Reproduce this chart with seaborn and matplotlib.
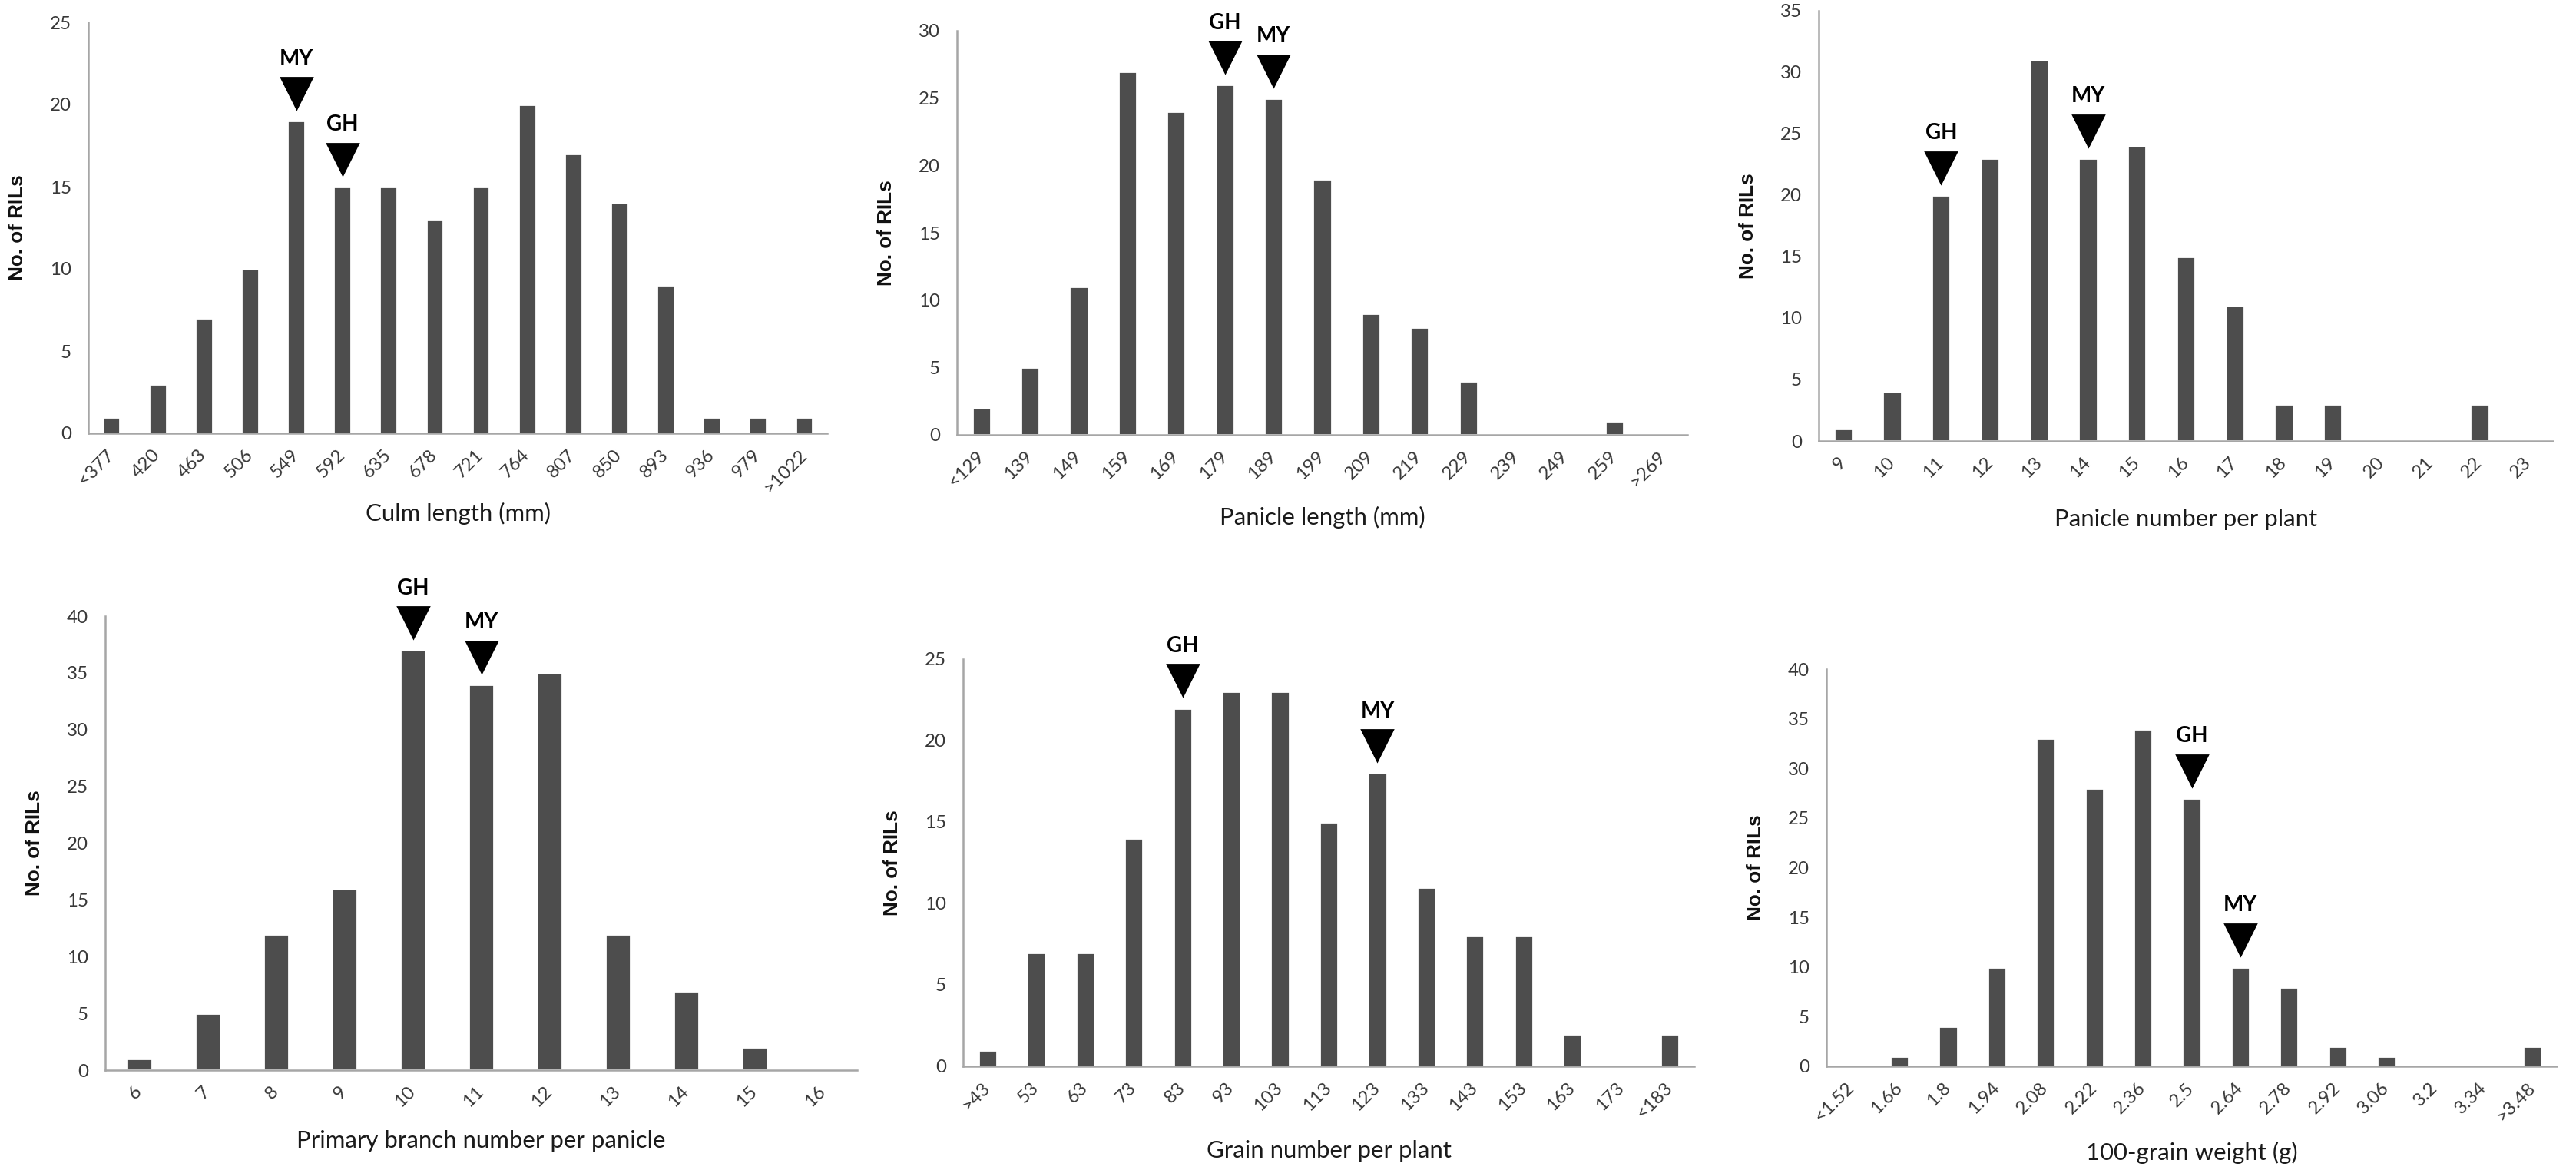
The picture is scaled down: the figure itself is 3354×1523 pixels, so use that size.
import matplotlib
matplotlib.use("Agg")
import matplotlib.pyplot as plt
import matplotlib.transforms as mtransforms
import seaborn as sns
import pandas as pd

# Данные: шесть гистограмм по признакам
culm_labels = ["<377", "420", "463", "506", "549", "592", "635", "678", "721",
               "764", "807", "850", "893", "936", "979", ">1022"]
culm_counts = [1, 3, 7, 10, 19, 15, 15, 13, 15, 20, 17, 14, 9, 1, 1, 1]

panicle_len_labels = ["<129", "139", "149", "159", "169", "179", "189", "199",
                      "209", "219", "229", "239", "249", "259", ">269"]
panicle_len_counts = [2, 5, 11, 27, 24, 26, 25, 19, 9, 8, 4, 0, 0, 1, 0]

panicle_num_labels = [str(v) for v in range(9, 24)]
panicle_num_counts = [1, 4, 20, 23, 31, 23, 24, 15, 11, 3, 3, 0, 0, 3, 0]

branch_labels = [str(v) for v in range(6, 17)]
branch_counts = [1, 5, 12, 16, 37, 34, 35, 12, 7, 2, 0]

grain_num_labels = [">43", "53", "63", "73", "83", "93", "103", "113", "123",
                    "133", "143", "153", "163", "173", "<183"]
grain_num_counts = [1, 7, 7, 14, 22, 23, 23, 15, 18, 11, 8, 8, 2, 0, 2]

weight_labels = ["<1.52", "1.66", "1.8", "1.94", "2.08", "2.22", "2.36", "2.5",
                 "2.64", "2.78", "2.92", "3.06", "3.2", "3.34", ">3.48"]
weight_counts = [0, 1, 4, 10, 33, 28, 34, 27, 10, 8, 2, 1, 0, 0, 2]

panels = [
    # labels, counts, xlabel, ymax, GH category, MY category
    (culm_labels, culm_counts, "Culm length (mm)", 25, "592", "549"),
    (panicle_len_labels, panicle_len_counts, "Panicle length (mm)", 30, "179", "189"),
    (panicle_num_labels, panicle_num_counts, "Panicle number per plant", 35, "11", "14"),
    (branch_labels, branch_counts, "Primary branch number per panicle", 40, "10", "11"),
    (grain_num_labels, grain_num_counts, "Grain number per plant", 25, "83", "123"),
    (weight_labels, weight_counts, "100-grain weight (g)", 40, "2.5", "2.64"),
]

# Положение осей в пикселях: left, top, right, bottom (y0)
W, H = 3354, 1523
boxes = [
    (115, 29, 1077, 564),
    (1246, 40, 2197, 566),
    (2368, 14, 3324, 574),
    (137, 802, 1116, 1393),
    (1254, 858, 2206, 1388),
    (2378, 871, 3329, 1388),
]
xlabel_off = [104, 107, 102, 92, 110, 112]

sns.set_style("white")
plt.rcParams["font.family"] = ["Lato", "DejaVu Sans"]

fig = plt.figure(figsize=(W / 200, H / 200), dpi=200)
bar_color = "#4d4d4d"
axis_color = "#a6a6a6"

for (labels, counts, xlabel, ymax, gh, my), (l, t, r, b), xoff in zip(panels, boxes, xlabel_off):
    ax = fig.add_axes([l / W, 1 - b / H, (r - l) / W, (b - t) / H])
    df = pd.DataFrame({"bin": labels, "n": counts})
    sns.barplot(data=df, x="bin", y="n", order=labels, color=bar_color,
                saturation=1, width=0.38, ax=ax)
    n = len(labels)
    ax.set_xlim(-0.5, n - 0.5)
    ax.set_ylim(0, ymax)
    ax.set_yticks(range(0, ymax + 1, 5))

    # деления по границам категорий, подписи — по центрам
    ax.set_xticks(range(n))
    ax.set_xticklabels(labels, rotation=45, ha="right", va="center",
                       rotation_mode="anchor", fontsize=8.7, color="#383838")
    ax.set_xticks([i - 0.5 for i in range(n + 1)], minor=True)
    ax.tick_params(axis="x", which="major", length=0, pad=9)
    ax.tick_params(axis="x", which="minor", length=3, width=0.8,
                   color=axis_color, direction="out")
    ax.tick_params(axis="y", length=3, width=0.8, color=axis_color,
                   direction="out", pad=5, labelsize=8.7, labelcolor="#383838")

    for side in ["top", "right"]:
        ax.spines[side].set_visible(False)
    for side in ["left", "bottom"]:
        ax.spines[side].set_color(axis_color)
        ax.spines[side].set_linewidth(0.9)

    ax.set_ylabel("No. of RILs", fontsize=9.4, fontweight="bold",
                  family=["Liberation Sans", "DejaVu Sans"], color="#111111")
    ax.yaxis.set_label_coords(-80 / (r - l), 0.5)
    ax.set_xlabel(xlabel, fontsize=11.2, color="#1a1a1a", va="center")
    ax.xaxis.set_label_coords(0.5, -xoff / (b - t))

    # маркеры родителей GH и MY
    tri = mtransforms.offset_copy(ax.transData, fig=fig, y=13, units="points")
    for name, cat in [("GH", gh), ("MY", my)]:
        i = labels.index(cat)
        ax.plot([i], [counts[i]], marker="v", markersize=14.5, color="black",
                transform=tri, clip_on=False)
        ax.annotate(name, xy=(i, counts[i]), xytext=(0, 29),
                    textcoords="offset points", ha="center", va="center",
                    fontsize=10, fontweight="bold", color="black")

fig.savefig("out.png", dpi=200, facecolor="white")
